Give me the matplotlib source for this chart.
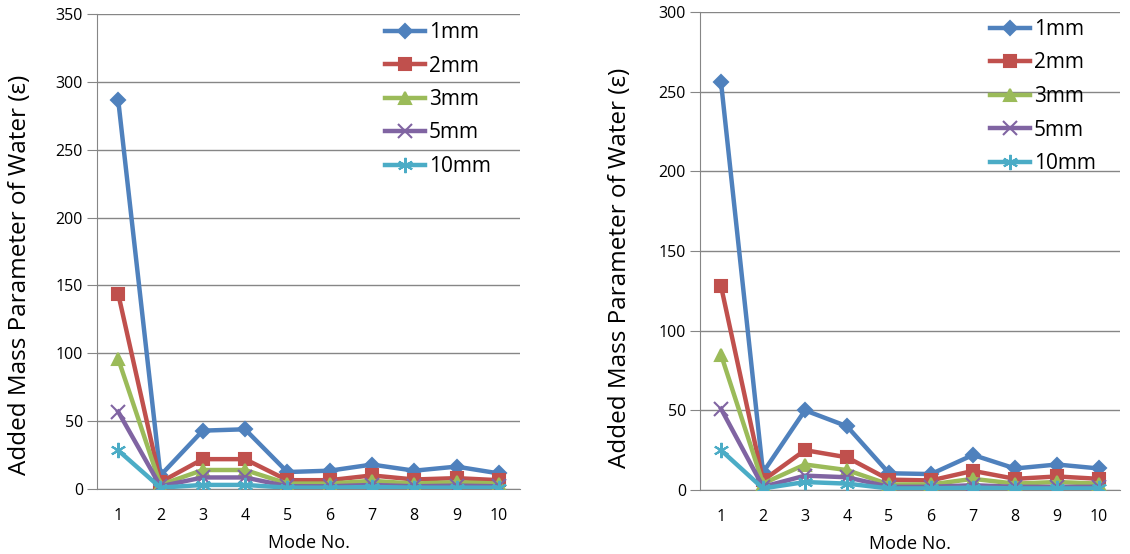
import matplotlib.pyplot as plt

plt.rcParams['font.family'] = ['Open Sans', 'DejaVu Sans']

modes = [1, 2, 3, 4, 5, 6, 7, 8, 9, 10]
labels = ['1mm', '2mm', '3mm', '5mm', '10mm']

# left chart
left_1mm = [287, 10, 43, 44, 12.5, 13.5, 18, 13.5, 16.5, 11.5]
left_2mm = [144, 5, 22, 22, 6.5, 6.5, 10, 7, 8, 6.5]
left_3mm = [96, 3, 14, 14, 4, 4, 6, 4, 5, 4]
left_5mm = [57, 2, 8.5, 8.5, 2, 2, 3, 2, 2.5, 2]
left_10mm = [28.5, 1, 3, 3, 1, 1, 1.5, 1, 1, 1]

# right chart
right_1mm = [256, 11, 50, 40, 10.5, 10, 22, 13.5, 16, 13.5]
right_2mm = [128, 6, 25, 20.5, 6.5, 6, 12, 7, 8.5, 7]
right_3mm = [85, 4, 16, 12.5, 3.5, 3.5, 7, 4, 5, 4]
right_5mm = [51, 2, 9, 8, 2, 2, 3, 2, 2, 2]
right_10mm = [25, 1, 5, 4, 1, 1, 1.5, 1, 1, 1]

colors = ['#4F81BD', '#C0504D', '#9BBB59', '#8064A2', '#4BACC6']
markers = ['D', 's', '^', 'x', (6, 2, 0)]
msizes = [7, 9, 9, 10, 11]

W, H = 1130, 554
fig = plt.figure(figsize=(W/100, H/100), dpi=100)
ax1 = fig.add_axes([97/W, 1-489/H, 423/W, 475/H])
ax2 = fig.add_axes([700/W, 1-490/H, 420/W, 478/H])

def draw(ax, series, ymax, leg_x, leg_y, lab_x, lab_y):
	for i, s in enumerate(series):
		ax.plot(modes, s, color=colors[i], marker=markers[i], markersize=msizes[i],
			markeredgewidth=1.5, linewidth=3.2, label=labels[i], zorder=3)
	ax.set_xlim(0.5, 10.5)
	ax.set_ylim(0, ymax)
	ax.set_yticks(range(0, ymax + 1, 50))
	ax.set_xticks(modes)
	ax.yaxis.grid(True, color='#868686', linewidth=1)
	ax.set_axisbelow(True)
	for sp in ['top', 'right']:
		ax.spines[sp].set_visible(False)
	for sp in ['left', 'bottom']:
		ax.spines[sp].set_color('#868686')
	ax.tick_params(axis='y', labelsize=11.5, colors='#868686', labelcolor='black',
		length=7, pad=3)
	ax.tick_params(axis='x', labelsize=11.5, labelcolor='black', length=0, pad=14)
	ax.set_xlabel('Mode No.', fontsize=13, labelpad=7)
	ax.set_ylabel('Added Mass Parameter of Water (\u03b5)', fontsize=17.5)
	ax.yaxis.set_label_coords(lab_x, lab_y)
	ax.legend(loc='upper left', frameon=False, fontsize=15, handlelength=1.9,
		handletextpad=0.2, labelspacing=0.6, borderaxespad=0, borderpad=0,
		bbox_to_anchor=(leg_x, leg_y))

draw(ax1, [left_1mm, left_2mm, left_3mm, left_5mm, left_10mm], 350,
	(385-97)/423, 1-8/475, -0.154, 0.45)
draw(ax2, [right_1mm, right_2mm, right_3mm, right_5mm, right_10mm], 300,
	(990-700)/420, 1-7/478, -0.162, 0.464)

plt.savefig('out.png')
